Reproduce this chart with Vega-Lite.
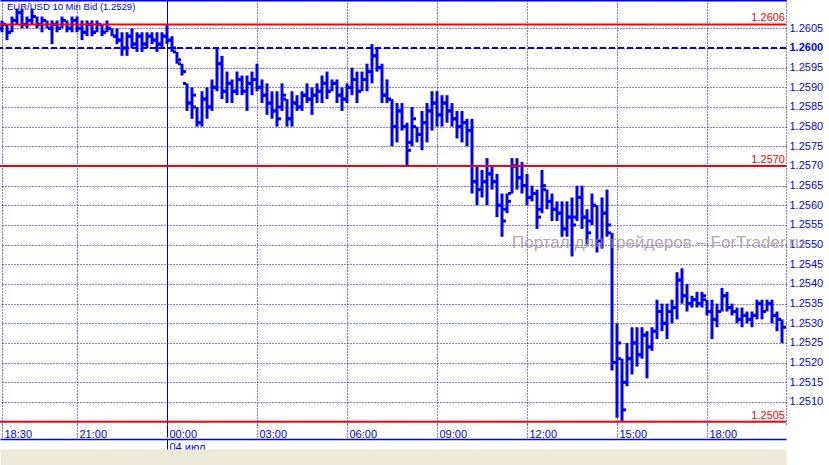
{
"$schema": "https://vega.github.io/schema/vega-lite/v6.json",
"width": 786, "height": 424,
"autosize": {"type": "none"},
"padding": {"left": 0, "top": 0, "right": 43, "bottom": 41},
"background": "white",
"config": {"view": {"stroke": null}, "font": "Liberation Sans", "axis": {"labelFont": "Liberation Sans"}, "text": {"font": "Liberation Sans"}},
"datasets": {"bars": [
{"t":"2010-07-03T18:30","o":1.2605,"h":1.2607,"l":1.2604,"c":1.2606},
{"t":"2010-07-03T18:40","o":1.2606,"h":1.2606,"l":1.2602,"c":1.2604},
{"t":"2010-07-03T18:50","o":1.2604,"h":1.2608,"l":1.2604,"c":1.2607},
{"t":"2010-07-03T19:00","o":1.2607,"h":1.2610,"l":1.2606,"c":1.2609},
{"t":"2010-07-03T19:10","o":1.2609,"h":1.2610,"l":1.2605,"c":1.2606},
{"t":"2010-07-03T19:20","o":1.2606,"h":1.2608,"l":1.2605,"c":1.2607},
{"t":"2010-07-03T19:30","o":1.2607,"h":1.2610,"l":1.2606,"c":1.2608},
{"t":"2010-07-03T19:40","o":1.2608,"h":1.2608,"l":1.2605,"c":1.2606},
{"t":"2010-07-03T19:50","o":1.2606,"h":1.2608,"l":1.2604,"c":1.2607},
{"t":"2010-07-03T20:00","o":1.2607,"h":1.2607,"l":1.2605,"c":1.2605},
{"t":"2010-07-03T20:10","o":1.2605,"h":1.2607,"l":1.2601,"c":1.2606},
{"t":"2010-07-03T20:20","o":1.2606,"h":1.2607,"l":1.2604,"c":1.2605},
{"t":"2010-07-03T20:30","o":1.2605,"h":1.2608,"l":1.2605,"c":1.2607},
{"t":"2010-07-03T20:40","o":1.2607,"h":1.2607,"l":1.2604,"c":1.2605},
{"t":"2010-07-03T20:50","o":1.2605,"h":1.2608,"l":1.2604,"c":1.2607},
{"t":"2010-07-03T21:00","o":1.2607,"h":1.2608,"l":1.2604,"c":1.2605},
{"t":"2010-07-03T21:10","o":1.2605,"h":1.2607,"l":1.2602,"c":1.2604},
{"t":"2010-07-03T21:20","o":1.2604,"h":1.2607,"l":1.2603,"c":1.2606},
{"t":"2010-07-03T21:30","o":1.2606,"h":1.2607,"l":1.2603,"c":1.2604},
{"t":"2010-07-03T21:40","o":1.2604,"h":1.2607,"l":1.2604,"c":1.2606},
{"t":"2010-07-03T21:50","o":1.2606,"h":1.2606,"l":1.2603,"c":1.2604},
{"t":"2010-07-03T22:00","o":1.2604,"h":1.2607,"l":1.2604,"c":1.2605},
{"t":"2010-07-03T22:10","o":1.2605,"h":1.2605,"l":1.2603,"c":1.2603},
{"t":"2010-07-03T22:20","o":1.2603,"h":1.2605,"l":1.2601,"c":1.2602},
{"t":"2010-07-03T22:30","o":1.2602,"h":1.2604,"l":1.2598,"c":1.2600},
{"t":"2010-07-03T22:40","o":1.2600,"h":1.2604,"l":1.2598,"c":1.2603},
{"t":"2010-07-03T22:50","o":1.2603,"h":1.2605,"l":1.2600,"c":1.2601},
{"t":"2010-07-03T23:00","o":1.2601,"h":1.2604,"l":1.2599,"c":1.2603},
{"t":"2010-07-03T23:10","o":1.2603,"h":1.2604,"l":1.2599,"c":1.2601},
{"t":"2010-07-03T23:20","o":1.2601,"h":1.2604,"l":1.2600,"c":1.2603},
{"t":"2010-07-03T23:30","o":1.2603,"h":1.2604,"l":1.2601,"c":1.2602},
{"t":"2010-07-03T23:40","o":1.2602,"h":1.2604,"l":1.2599,"c":1.2601},
{"t":"2010-07-03T23:50","o":1.2601,"h":1.2604,"l":1.2600,"c":1.2603},
{"t":"2010-07-04T00:00","o":1.2603,"h":1.2606,"l":1.2601,"c":1.2602},
{"t":"2010-07-04T00:10","o":1.2602,"h":1.2603,"l":1.2599,"c":1.2600},
{"t":"2010-07-04T00:20","o":1.2599,"h":1.2599,"l":1.2596,"c":1.2597},
{"t":"2010-07-04T00:30","o":1.2596,"h":1.2596,"l":1.2593,"c":1.2594},
{"t":"2010-07-04T00:40","o":1.2591,"h":1.2591,"l":1.2584,"c":1.2586},
{"t":"2010-07-04T00:50","o":1.2586,"h":1.2590,"l":1.2582,"c":1.2588},
{"t":"2010-07-04T01:00","o":1.2585,"h":1.2585,"l":1.2580,"c":1.2581},
{"t":"2010-07-04T01:10","o":1.2581,"h":1.2589,"l":1.2580,"c":1.2587},
{"t":"2010-07-04T01:20","o":1.2587,"h":1.2590,"l":1.2582,"c":1.2585},
{"t":"2010-07-04T01:30","o":1.2585,"h":1.2592,"l":1.2584,"c":1.2590},
{"t":"2010-07-04T01:40","o":1.2590,"h":1.2600,"l":1.2589,"c":1.2596},
{"t":"2010-07-04T01:50","o":1.2596,"h":1.2598,"l":1.2587,"c":1.2589},
{"t":"2010-07-04T02:00","o":1.2589,"h":1.2594,"l":1.2586,"c":1.2591},
{"t":"2010-07-04T02:10","o":1.2591,"h":1.2592,"l":1.2586,"c":1.2589},
{"t":"2010-07-04T02:20","o":1.2589,"h":1.2594,"l":1.2588,"c":1.2592},
{"t":"2010-07-04T02:30","o":1.2592,"h":1.2593,"l":1.2588,"c":1.2589},
{"t":"2010-07-04T02:40","o":1.2589,"h":1.2593,"l":1.2584,"c":1.2591},
{"t":"2010-07-04T02:50","o":1.2591,"h":1.2594,"l":1.2588,"c":1.2592},
{"t":"2010-07-04T03:00","o":1.2592,"h":1.2596,"l":1.2589,"c":1.2590},
{"t":"2010-07-04T03:10","o":1.2590,"h":1.2592,"l":1.2586,"c":1.2588},
{"t":"2010-07-04T03:20","o":1.2588,"h":1.2591,"l":1.2583,"c":1.2586},
{"t":"2010-07-04T03:30","o":1.2586,"h":1.2589,"l":1.2582,"c":1.2584},
{"t":"2010-07-04T03:40","o":1.2584,"h":1.2589,"l":1.2580,"c":1.2582},
{"t":"2010-07-04T03:50","o":1.2585,"h":1.2591,"l":1.2584,"c":1.2588},
{"t":"2010-07-04T04:00","o":1.2587,"h":1.2587,"l":1.2580,"c":1.2582},
{"t":"2010-07-04T04:10","o":1.2582,"h":1.2589,"l":1.2580,"c":1.2586},
{"t":"2010-07-04T04:20","o":1.2586,"h":1.2588,"l":1.2584,"c":1.2585},
{"t":"2010-07-04T04:30","o":1.2585,"h":1.2589,"l":1.2584,"c":1.2588},
{"t":"2010-07-04T04:40","o":1.2588,"h":1.2591,"l":1.2586,"c":1.2587},
{"t":"2010-07-04T04:50","o":1.2587,"h":1.2590,"l":1.2583,"c":1.2588},
{"t":"2010-07-04T05:00","o":1.2588,"h":1.2591,"l":1.2586,"c":1.2589},
{"t":"2010-07-04T05:10","o":1.2589,"h":1.2593,"l":1.2586,"c":1.2591},
{"t":"2010-07-04T05:20","o":1.2591,"h":1.2594,"l":1.2587,"c":1.2589},
{"t":"2010-07-04T05:30","o":1.2589,"h":1.2592,"l":1.2589,"c":1.2591},
{"t":"2010-07-04T05:40","o":1.2591,"h":1.2592,"l":1.2586,"c":1.2588},
{"t":"2010-07-04T05:50","o":1.2588,"h":1.2590,"l":1.2584,"c":1.2587},
{"t":"2010-07-04T06:00","o":1.2587,"h":1.2591,"l":1.2586,"c":1.2590},
{"t":"2010-07-04T06:10","o":1.2590,"h":1.2595,"l":1.2588,"c":1.2592},
{"t":"2010-07-04T06:20","o":1.2592,"h":1.2594,"l":1.2586,"c":1.2589},
{"t":"2010-07-04T06:30","o":1.2589,"h":1.2594,"l":1.2589,"c":1.2592},
{"t":"2010-07-04T06:40","o":1.2592,"h":1.2596,"l":1.2589,"c":1.2594},
{"t":"2010-07-04T06:50","o":1.2594,"h":1.2601,"l":1.2591,"c":1.2598},
{"t":"2010-07-04T07:00","o":1.2598,"h":1.2600,"l":1.2594,"c":1.2595},
{"t":"2010-07-04T07:10","o":1.2595,"h":1.2596,"l":1.2586,"c":1.2588},
{"t":"2010-07-04T07:20","o":1.2588,"h":1.2592,"l":1.2586,"c":1.2587},
{"t":"2010-07-04T07:30","o":1.2587,"h":1.2587,"l":1.2575,"c":1.2580},
{"t":"2010-07-04T07:40","o":1.2580,"h":1.2586,"l":1.2576,"c":1.2584},
{"t":"2010-07-04T07:50","o":1.2584,"h":1.2586,"l":1.2579,"c":1.2580},
{"t":"2010-07-04T08:00","o":1.2580,"h":1.2581,"l":1.2570,"c":1.2574},
{"t":"2010-07-04T08:10","o":1.2576,"h":1.2585,"l":1.2575,"c":1.2582},
{"t":"2010-07-04T08:20","o":1.2580,"h":1.2580,"l":1.2576,"c":1.2578},
{"t":"2010-07-04T08:30","o":1.2578,"h":1.2584,"l":1.2574,"c":1.2581},
{"t":"2010-07-04T08:40","o":1.2581,"h":1.2586,"l":1.2576,"c":1.2584},
{"t":"2010-07-04T08:50","o":1.2584,"h":1.2589,"l":1.2579,"c":1.2586},
{"t":"2010-07-04T09:00","o":1.2586,"h":1.2589,"l":1.2580,"c":1.2583},
{"t":"2010-07-04T09:10","o":1.2583,"h":1.2588,"l":1.2580,"c":1.2586},
{"t":"2010-07-04T09:20","o":1.2586,"h":1.2588,"l":1.2581,"c":1.2584},
{"t":"2010-07-04T09:30","o":1.2584,"h":1.2586,"l":1.2580,"c":1.2582},
{"t":"2010-07-04T09:40","o":1.2582,"h":1.2584,"l":1.2577,"c":1.2580},
{"t":"2010-07-04T09:50","o":1.2580,"h":1.2584,"l":1.2576,"c":1.2581},
{"t":"2010-07-04T10:00","o":1.2581,"h":1.2582,"l":1.2575,"c":1.2579},
{"t":"2010-07-04T10:10","o":1.2579,"h":1.2582,"l":1.2563,"c":1.2566},
{"t":"2010-07-04T10:20","o":1.2566,"h":1.2570,"l":1.2560,"c":1.2564},
{"t":"2010-07-04T10:30","o":1.2564,"h":1.2569,"l":1.2562,"c":1.2566},
{"t":"2010-07-04T10:40","o":1.2566,"h":1.2572,"l":1.2560,"c":1.2568},
{"t":"2010-07-04T10:50","o":1.2568,"h":1.2570,"l":1.2564,"c":1.2566},
{"t":"2010-07-04T11:00","o":1.2566,"h":1.2568,"l":1.2557,"c":1.2560},
{"t":"2010-07-04T11:10","o":1.2560,"h":1.2563,"l":1.2552,"c":1.2556},
{"t":"2010-07-04T11:20","o":1.2559,"h":1.2563,"l":1.2558,"c":1.2561},
{"t":"2010-07-04T11:30","o":1.2563,"h":1.2572,"l":1.2563,"c":1.2570},
{"t":"2010-07-04T11:40","o":1.2570,"h":1.2572,"l":1.2564,"c":1.2567},
{"t":"2010-07-04T11:50","o":1.2567,"h":1.2571,"l":1.2563,"c":1.2565},
{"t":"2010-07-04T12:00","o":1.2565,"h":1.2568,"l":1.2560,"c":1.2562},
{"t":"2010-07-04T12:10","o":1.2562,"h":1.2565,"l":1.2561,"c":1.2563},
{"t":"2010-07-04T12:20","o":1.2563,"h":1.2564,"l":1.2554,"c":1.2557},
{"t":"2010-07-04T12:30","o":1.2559,"h":1.2569,"l":1.2558,"c":1.2565},
{"t":"2010-07-04T12:40","o":1.2564,"h":1.2564,"l":1.2559,"c":1.2561},
{"t":"2010-07-04T12:50","o":1.2561,"h":1.2563,"l":1.2556,"c":1.2559},
{"t":"2010-07-04T13:00","o":1.2559,"h":1.2561,"l":1.2556,"c":1.2558},
{"t":"2010-07-04T13:10","o":1.2558,"h":1.2561,"l":1.2552,"c":1.2554},
{"t":"2010-07-04T13:20","o":1.2554,"h":1.2561,"l":1.2552,"c":1.2557},
{"t":"2010-07-04T13:30","o":1.2557,"h":1.2562,"l":1.2547,"c":1.2555},
{"t":"2010-07-04T13:40","o":1.2557,"h":1.2565,"l":1.2556,"c":1.2562},
{"t":"2010-07-04T13:50","o":1.2562,"h":1.2565,"l":1.2554,"c":1.2557},
{"t":"2010-07-04T14:00","o":1.2557,"h":1.2559,"l":1.2550,"c":1.2553},
{"t":"2010-07-04T14:10","o":1.2556,"h":1.2563,"l":1.2555,"c":1.2560},
{"t":"2010-07-04T14:20","o":1.2560,"h":1.2560,"l":1.2548,"c":1.2551},
{"t":"2010-07-04T14:30","o":1.2551,"h":1.2562,"l":1.2549,"c":1.2558},
{"t":"2010-07-04T14:40","o":1.2558,"h":1.2564,"l":1.2552,"c":1.2555},
{"t":"2010-07-04T14:50","o":1.2553,"h":1.2553,"l":1.2518,"c":1.2520},
{"t":"2010-07-04T15:00","o":1.2520,"h":1.2530,"l":1.2506,"c":1.2525},
{"t":"2010-07-04T15:10","o":1.2521,"h":1.2521,"l":1.2505,"c":1.2508},
{"t":"2010-07-04T15:20","o":1.2515,"h":1.2525,"l":1.2514,"c":1.2521},
{"t":"2010-07-04T15:30","o":1.2521,"h":1.2529,"l":1.2517,"c":1.2525},
{"t":"2010-07-04T15:40","o":1.2525,"h":1.2529,"l":1.2519,"c":1.2522},
{"t":"2010-07-04T15:50","o":1.2522,"h":1.2529,"l":1.2521,"c":1.2527},
{"t":"2010-07-04T16:00","o":1.2527,"h":1.2528,"l":1.2516,"c":1.2524},
{"t":"2010-07-04T16:10","o":1.2524,"h":1.2529,"l":1.2523,"c":1.2528},
{"t":"2010-07-04T16:20","o":1.2528,"h":1.2536,"l":1.2526,"c":1.2533},
{"t":"2010-07-04T16:30","o":1.2533,"h":1.2535,"l":1.2528,"c":1.2530},
{"t":"2010-07-04T16:40","o":1.2530,"h":1.2535,"l":1.2526,"c":1.2533},
{"t":"2010-07-04T16:50","o":1.2533,"h":1.2536,"l":1.2530,"c":1.2534},
{"t":"2010-07-04T17:00","o":1.2534,"h":1.2543,"l":1.2531,"c":1.2541},
{"t":"2010-07-04T17:10","o":1.2541,"h":1.2544,"l":1.2535,"c":1.2537},
{"t":"2010-07-04T17:20","o":1.2537,"h":1.2540,"l":1.2533,"c":1.2535},
{"t":"2010-07-04T17:30","o":1.2535,"h":1.2537,"l":1.2534,"c":1.2536},
{"t":"2010-07-04T17:40","o":1.2536,"h":1.2538,"l":1.2534,"c":1.2535},
{"t":"2010-07-04T17:50","o":1.2535,"h":1.2538,"l":1.2534,"c":1.2537},
{"t":"2010-07-04T18:00","o":1.2536,"h":1.2536,"l":1.2532,"c":1.2533},
{"t":"2010-07-04T18:10","o":1.2533,"h":1.2536,"l":1.2526,"c":1.2531},
{"t":"2010-07-04T18:20","o":1.2531,"h":1.2535,"l":1.2529,"c":1.2533},
{"t":"2010-07-04T18:30","o":1.2533,"h":1.2539,"l":1.2533,"c":1.2537},
{"t":"2010-07-04T18:40","o":1.2537,"h":1.2538,"l":1.2533,"c":1.2534},
{"t":"2010-07-04T18:50","o":1.2534,"h":1.2535,"l":1.2532,"c":1.2533},
{"t":"2010-07-04T19:00","o":1.2533,"h":1.2534,"l":1.2530,"c":1.2531},
{"t":"2010-07-04T19:10","o":1.2531,"h":1.2534,"l":1.2529,"c":1.2532},
{"t":"2010-07-04T19:20","o":1.2532,"h":1.2533,"l":1.2530,"c":1.2531},
{"t":"2010-07-04T19:30","o":1.2531,"h":1.2533,"l":1.2529,"c":1.2532},
{"t":"2010-07-04T19:40","o":1.2532,"h":1.2536,"l":1.2531,"c":1.2535},
{"t":"2010-07-04T19:50","o":1.2535,"h":1.2536,"l":1.2531,"c":1.2533},
{"t":"2010-07-04T20:00","o":1.2533,"h":1.2536,"l":1.2533,"c":1.2535},
{"t":"2010-07-04T20:10","o":1.2535,"h":1.2536,"l":1.2530,"c":1.2532},
{"t":"2010-07-04T20:20","o":1.2532,"h":1.2533,"l":1.2528,"c":1.2531},
{"t":"2010-07-04T20:30","o":1.2531,"h":1.2531,"l":1.2525,"c":1.2529}
]},
"data": {"name": "bars"},
"resolve": {"axis": {"x": "independent", "y": "independent"}},
"layer": [
{
"mark": {"type": "rule", "strokeWidth": 3, "color": "#0000ff"},
"encoding": {
"x": {"field": "t", "type": "temporal",
 "scale": {"domain": [{"year":2010,"month":7,"date":3,"hours":18,"minutes":26},{"year":2010,"month":7,"date":4,"hours":20,"minutes":38}]},
 "axis": {"orient": "bottom", "title": null, "domain": false,
  "values": [{"year":2010,"month":7,"date":3,"hours":18,"minutes":30},{"year":2010,"month":7,"date":3,"hours":21},{"year":2010,"month":7,"date":4,"hours":0},{"year":2010,"month":7,"date":4,"hours":3},{"year":2010,"month":7,"date":4,"hours":6},{"year":2010,"month":7,"date":4,"hours":9},{"year":2010,"month":7,"date":4,"hours":12},{"year":2010,"month":7,"date":4,"hours":15},{"year":2010,"month":7,"date":4,"hours":18}],
  "format": "%H:%M", "labelAlign": "left", "labelBaseline": "top", "labelOffset": 2, "labelPadding": -9,
  "labelColor": "#0000ff", "labelFontSize": 11, "labelFlush": false, "labelOverlap": false, "labelBound": false,
  "ticks": true, "tickSize": 13, "tickWidth": 1,
  "tickColor": {"condition": {"test": "hours(datum.value) === 0", "value": "#0000b0"}, "value": "#0000ff"},
  "tickDash": {"condition": {"test": "hours(datum.value) === 0", "value": []}, "value": [1, 2]},
  "grid": true, "gridWidth": 1, "gridOpacity": 1,
  "gridColor": {"condition": {"test": "hours(datum.value) === 0", "value": "#0000b0"}, "value": "#0000ff"},
  "gridDash": {"condition": {"test": "hours(datum.value) === 0", "value": []}, "value": [1, 2]}
 }},
"y": {"field": "l", "type": "quantitative", "scale": {"domain": [1.25044, 1.26122], "nice": false, "zero": false},
 "axis": {"orient": "right", "title": null,
  "values": [1.251, 1.2515, 1.252, 1.2525, 1.253, 1.2535, 1.254, 1.2545, 1.255, 1.2555, 1.256, 1.2565, 1.257, 1.2575, 1.258, 1.2585, 1.259, 1.2595, 1.26, 1.2605],
  "format": ".4f", "labelColor": "#0000ff", "labelFontSize": 11, "labelPadding": 3, "ticks": false,
  "labelFontWeight": {"condition": {"test": "abs(datum.value - 1.26) < 0.00001", "value": "bold"}, "value": "normal"},
  "labelFlush": false, "labelOverlap": false, "labelBound": false,
  "domain": true, "domainColor": "#0000ff", "domainDash": [1, 2], "domainWidth": 1,
  "grid": true, "gridColor": "#0000ff", "gridDash": [1, 2], "gridWidth": 1, "gridOpacity": 1
 }},
"y2": {"field": "h"}
}
},
{
"mark": {"type": "tick", "orient": "horizontal", "size": 3, "thickness": 3, "xOffset": -2.5, "color": "#0000ff", "opacity": 1},
"encoding": {
"x": {"field": "t", "type": "temporal",
 "scale": {"domain": [{"year":2010,"month":7,"date":3,"hours":18,"minutes":26},{"year":2010,"month":7,"date":4,"hours":20,"minutes":38}]},
 "axis": {"orient": "bottom", "offset": 15, "title": null, "domain": true, "domainColor": "#0000ff", "domainWidth": 1.5,
  "values": [{"year":2010,"month":7,"date":4,"hours":0}], "labelExpr": "'04 июл'",
  "labelAlign": "left", "labelBaseline": "top", "labelOffset": 2, "labelPadding": -9,
  "labelColor": "#0000ff", "labelFontSize": 11, "labelFlush": false, "labelBound": false,
  "tickSize": 11, "tickWidth": 1, "tickColor": "#0000b0", "grid": false}},
"y": {"field": "o", "type": "quantitative", "scale": {"domain": [1.25044, 1.26122], "nice": false, "zero": false}, "axis": null}
}
},
{
"mark": {"type": "tick", "orient": "horizontal", "size": 3, "thickness": 3, "xOffset": 2.5, "color": "#0000ff", "opacity": 1},
"encoding": {
"x": {"field": "t", "type": "temporal",
 "scale": {"domain": [{"year":2010,"month":7,"date":3,"hours":18,"minutes":26},{"year":2010,"month":7,"date":4,"hours":20,"minutes":38}]},
 "axis": {"orient": "top", "title": null, "labels": false, "ticks": false, "grid": false, "domain": true, "domainColor": "#0000ff", "domainWidth": 2}},
"y": {"field": "c", "type": "quantitative", "scale": {"domain": [1.25044, 1.26122], "nice": false, "zero": false}, "axis": null}
}
},
{
"data": {"values": [{}]},
"mark": {"type": "rule", "color": "#0000ff", "strokeWidth": 2, "strokeDash": [6, 3]},
"encoding": {"y": {"datum": 1.26, "type": "quantitative", "scale": {"domain": [1.25044, 1.26122], "nice": false, "zero": false}, "axis": null}}
},
{
"data": {"values": [{"level": 1.2606}, {"level": 1.2570}, {"level": 1.2505}]},
"mark": {"type": "rule", "color": "#ff0000", "strokeWidth": 2},
"encoding": {"y": {"field": "level", "type": "quantitative", "scale": {"domain": [1.25044, 1.26122], "nice": false, "zero": false}, "axis": null}}
},
{
"data": {"values": [{"level": 1.2606}, {"level": 1.2570}, {"level": 1.2505}]},
"mark": {"type": "text", "color": "#ff0000", "fontSize": 11, "align": "right", "baseline": "bottom", "dx": -1, "dy": -1},
"encoding": {
"x": {"datum": {"year":2010,"month":7,"date":4,"hours":20,"minutes":38}, "type": "temporal", "axis": null},
"y": {"field": "level", "type": "quantitative", "scale": {"domain": [1.25044, 1.26122], "nice": false, "zero": false}, "axis": null},
"text": {"field": "level", "type": "quantitative", "format": ".4f"}
}
},
{
"data": {"values": [{}]},
"mark": {"type": "text", "color": "#0000ff", "fontSize": 9.5, "align": "left", "baseline": "top", "dy": 2, "text": "EUR/USD 10 Min Bid (1.2529)"},
"encoding": {
"x": {"datum": {"year":2010,"month":7,"date":3,"hours":18,"minutes":40}, "type": "temporal", "axis": null},
"y": {"datum": 1.26122, "type": "quantitative", "scale": {"domain": [1.25044, 1.26122], "nice": false, "zero": false}, "axis": null}
}
},
{
"data": {"values": [{}]},
"mark": {"type": "text", "color": "#998c8c", "opacity": 0.75, "fontSize": 17, "align": "left", "baseline": "middle", "text": "Портал для трейдеров – ForTrader.ru"},
"encoding": {
"x": {"datum": {"year":2010,"month":7,"date":4,"hours":11,"minutes":30}, "type": "temporal",
 "axis": {"orient": "bottom", "offset": 33, "title": null, "labels": false, "ticks": false, "grid": false, "domain": true, "domainColor": "#ece9d8", "domainWidth": 16}},
"y": {"datum": 1.25504, "type": "quantitative", "scale": {"domain": [1.25044, 1.26122], "nice": false, "zero": false}, "axis": null}
}
}
]
}
